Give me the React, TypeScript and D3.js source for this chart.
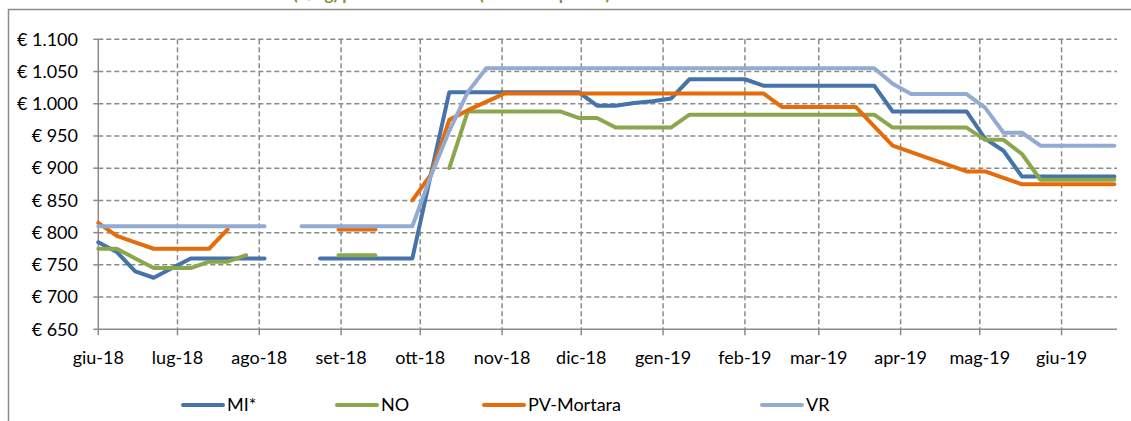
import React from "react";
import * as d3 from "d3";

const dates: string[] = [
  "2018-06-01","2018-06-08","2018-06-15","2018-06-22","2018-06-29",
  "2018-07-06","2018-07-13","2018-07-20","2018-07-27",
  "2018-08-03","2018-08-10","2018-08-17","2018-08-24","2018-08-31",
  "2018-09-07","2018-09-14","2018-09-21","2018-09-28",
  "2018-10-05","2018-10-12","2018-10-19","2018-10-26",
  "2018-11-02","2018-11-09","2018-11-16","2018-11-23","2018-11-30",
  "2018-12-07","2018-12-14","2018-12-21","2018-12-28",
  "2019-01-04","2019-01-11","2019-01-18","2019-01-25",
  "2019-02-01","2019-02-08","2019-02-15","2019-02-22",
  "2019-03-01","2019-03-08","2019-03-15","2019-03-22","2019-03-29",
  "2019-04-05","2019-04-12","2019-04-19","2019-04-26",
  "2019-05-03","2019-05-10","2019-05-17","2019-05-24","2019-05-31",
  "2019-06-07","2019-06-14","2019-06-21",
];

const MI: (number | null)[] = [
  785, 770, 740, 730, 745, 760, 760, 760, 760, 760,
  null, null,
  760, 760, 760, 760, 760, 760,
  890, 1018, 1018, 1018, 1018, 1018, 1018, 1018, 1018,
  997, 997, 1001, 1004, 1008,
  1038, 1038, 1038, 1038,
  1028, 1028, 1028, 1028, 1028, 1028, 1028,
  988, 988, 988, 988, 988,
  946, 927,
  887, 887, 887, 887, 887, 887,
];

const NO: (number | null)[] = [
  775, 775, 760, 745, 745, 745, 755, 755, 765,
  null, null, null, null,
  765, 765, 765,
  null, null, null,
  900, 988, 988, 988, 988, 988, 988,
  978, 978, 963, 963, 963, 963,
  983, 983, 983, 983, 983, 983, 983, 983, 983, 983, 983,
  963, 963, 963, 963, 963,
  944, 944, 922,
  882, 882, 882, 882, 882,
];

const PV: (number | null)[] = [
  815, 795, 785, 775, 775, 775, 775, 805,
  null, null, null, null, null,
  805, 805, 805,
  null,
  850, 890, 975, 990, 1003,
  1016, 1016, 1016, 1016, 1016, 1016, 1016, 1016, 1016, 1016, 1016, 1016, 1016, 1016, 1016,
  995, 995, 995, 995, 995,
  965, 935, 925, 915, 905, 895, 895, 885,
  875, 875, 875, 875, 875, 875,
];

const VR: (number | null)[] = [
  810, 810, 810, 810, 810, 810, 810, 810, 810, 810,
  null,
  810, 810, 810, 810, 810, 810, 810,
  888, 958, 1018,
  1055, 1055, 1055, 1055, 1055, 1055, 1055, 1055, 1055, 1055, 1055,
  1055, 1055, 1055, 1055, 1055, 1055, 1055, 1055, 1055, 1055, 1055,
  1031, 1015, 1015, 1015, 1015,
  994, 955, 955,
  935, 935, 935, 935, 935,
];

const seriesNames = ["MI*", "NO", "PV-Mortara", "VR"];
const seriesColors = ["#4573AA", "#8AA84B", "#E46C0A", "#93ABD3"];
const seriesValues = [MI, NO, PV, VR];

const monthLabels = [
  "giu-18", "lug-18", "ago-18", "set-18", "ott-18", "nov-18", "dic-18",
  "gen-19", "feb-19", "mar-19", "apr-19", "mag-19", "giu-19",
];
const yTickValues = [650, 700, 750, 800, 850, 900, 950, 1000, 1050, 1100];

const titleText = "(€/kg) prezzi medi borse (media fra piazze)";

const FONT = "Lato, 'Noto Sans', sans-serif";
const GRID = "#8A8A8A";

const euro = d3.formatLocale({
  decimal: ",",
  thousands: ".",
  grouping: [3],
  currency: ["€ ", ""],
}).format("$,.0f");

export default function App() {
  const W = 1131;
  const H = 421;
  const left = 98.3, right = 1117, top = 39.3, bottom = 329.3;

  const parse = (s: string) => new Date(s + "T00:00:00Z");
  const x = d3
    .scaleUtc()
    .domain([parse("2018-06-01"), parse("2019-06-22")])
    .range([left, right]);
  const y = d3.scaleLinear().domain([650, 1100]).range([bottom, top]);

  const monthTicks = x.ticks(d3.utcMonth.every(1) as any).slice(0, monthLabels.length);
  const xDates = dates.map(parse);

  const line = d3
    .line<number | null>()
    .defined((d) => d != null)
    .x((_, i) => x(xDates[i]))
    .y((d) => y(d as number));

  const legendX = [183, 337, 484, 762];
  const legendY = 405;

  return (
    <svg
      width={W}
      height={H}
      style={{ position: "absolute", left: 0, top: 0, background: "#fff" }}
      fontFamily={FONT}
    >
      <rect x={0} y={0} width={W} height={H} fill="#fff" />
      <rect x={8.5} y={9.5} width={1300} height={600} fill="none" stroke="#8C8C8C" strokeWidth={1.5} />

      {/* title (clipped at top, only descenders visible) */}
      <text x={293} y={-0.5} fontSize={17} fontWeight={700} fill="#77933C">
        {titleText}
      </text>

      {/* horizontal gridlines */}
      {yTickValues.slice(1).map((v) => (
        <line key={"h" + v} x1={left} x2={right} y1={y(v)} y2={y(v)}
          stroke={GRID} strokeWidth={1.5} strokeDasharray="5,3" />
      ))}
      {/* vertical gridlines */}
      {monthTicks.slice(1).map((d, i) => (
        <line key={"v" + i} x1={x(d)} x2={x(d)} y1={top} y2={bottom}
          stroke={GRID} strokeWidth={1.5} strokeDasharray="5,3" />
      ))}

      {/* axes */}
      <line x1={left} x2={right} y1={bottom} y2={bottom} stroke={GRID} strokeWidth={1.5} />
      <line x1={left} x2={left} y1={top} y2={bottom} stroke={GRID} strokeWidth={1.5} />
      {monthTicks.map((d, i) => (
        <line key={"xt" + i} x1={x(d)} x2={x(d)} y1={bottom} y2={bottom + 6} stroke={GRID} strokeWidth={1.5} />
      ))}
      {yTickValues.map((v) => (
        <line key={"yt" + v} x1={left - 5} x2={left} y1={y(v)} y2={y(v)} stroke={GRID} strokeWidth={1.5} />
      ))}

      {/* y labels */}
      {yTickValues.map((v) => (
        <text key={"yl" + v} x={78} y={y(v)} dy="0.35em" textAnchor="end" fontSize={18} fill="#000">
          {euro(v)}
        </text>
      ))}
      {/* x labels */}
      {monthTicks.map((d, i) => (
        <text key={"xl" + i} x={x(d)} y={364} textAnchor="middle" fontSize={18} fill="#000">
          {monthLabels[i]}
        </text>
      ))}

      {/* series */}
      {seriesValues.map((vals, s) => (
        <path key={"s" + s} d={line(vals) || ""} fill="none" stroke={seriesColors[s]}
          strokeWidth={4} strokeLinejoin="round" strokeLinecap="round" />
      ))}

      {/* legend */}
      {seriesNames.map((name, s) => (
        <g key={"lg" + s}>
          <line x1={legendX[s]} x2={legendX[s] + 40} y1={legendY} y2={legendY}
            stroke={seriesColors[s]} strokeWidth={4} strokeLinecap="round" />
          <text x={legendX[s] + 44} y={legendY} dy="0.35em" fontSize={18} fill="#000">
            {name}
          </text>
        </g>
      ))}
    </svg>
  );
}
